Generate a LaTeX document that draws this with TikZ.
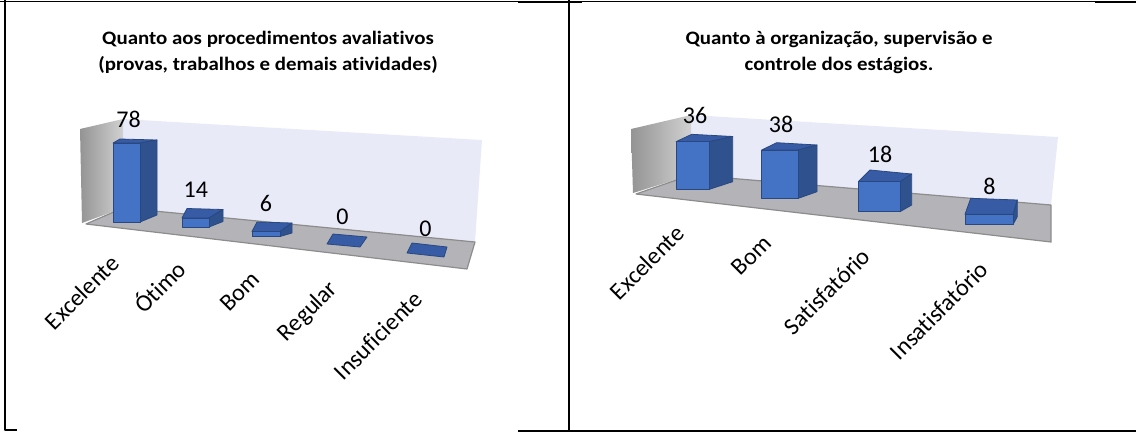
\documentclass[tikz,border=0pt]{standalone}
\usepackage{fontspec}
\setmainfont{Carlito}[Ligatures={NoCommon,NoContextual}]
\newfontfamily\titlefont{Carlito}[FakeStretch=1.1,Ligatures={NoCommon,NoContextual}]
\usepackage{tikz}

\definecolor{barblue}{RGB}{68,114,196}
\definecolor{bardark}{RGB}{47,82,143}
\definecolor{barmid}{RGB}{55,92,165}
\definecolor{baredge}{RGB}{41,72,128}
\definecolor{wallblue}{RGB}{232,234,248}
\definecolor{floorgray}{RGB}{180,180,184}
\definecolor{floorline}{RGB}{140,140,140}

\begin{document}
\begin{tikzpicture}[x=1pt,y=-1pt,line join=round,
facefront/.style={fill=barblue,draw=baredge,line width=0.8pt},
faceside/.style={fill=bardark,draw=baredge,line width=0.8pt},
facetop/.style={fill=barmid,draw=baredge,line width=0.8pt},
backplane/.style={fill=wallblue},
sidewall/.style={left color=black!42,right color=black!18},
floorplane/.style={fill=floorgray,draw=floorline,line width=1.2pt},
value/.style={font=\fontsize{24}{24}\selectfont,inner sep=0pt},
category/.style={font=\fontsize{24}{24}\selectfont,rotate=45,anchor=base east,inner sep=0pt},
charttitle/.style={font=\titlefont\fontsize{19}{24}\selectfont\bfseries,anchor=base,inner sep=0pt},
cellrule/.style={line width=2pt}]
\useasboundingbox (0,0) rectangle (1136,432);
\draw[line width=1pt] (0,1.5) -- (1136,1.5);
\draw[cellrule] (518,1.5) -- (582,1.5) (1095,1.5) -- (1136,1.5);
\draw[cellrule] (5,0) -- (5,430) -- (17,430);
\draw[cellrule] (569,0) -- (569,432);
\draw[cellrule] (518,431) -- (1136,431);

\node[charttitle] (titleA1) at (268,44) {Quanto aos procedimentos avaliativos};
\node[charttitle] (titleA2) at (268,70) {(provas, trabalhos e demais atividades)};
\fill[backplane] (123,119) -- (482,140) -- (475,242) -- (123,208) -- cycle;
\shade[sidewall] (80,129) -- (123,119) -- (123,208) -- (82,223) -- cycle;
\filldraw[floorplane] (123,208) -- (475,242) -- (467,269) -- (86,224) -- cycle;
\filldraw[facetop] (113,143) -- (120,139) -- (157,140) -- (140,143) -- cycle;
\filldraw[faceside] (140,143) -- (157,140) -- (157,215) -- (140,222) -- cycle;
\filldraw[facefront] (113,143) rectangle (140,222);
\filldraw[facetop] (182,218) -- (187,208.5) -- (223,209.5) -- (209,218) -- cycle;
\filldraw[faceside] (209,218) -- (223,209.5) -- (223,221.5) -- (209,227) -- cycle;
\filldraw[facefront] (182,218) rectangle (209,227);
\filldraw[facetop] (252,231.5) -- (257,222) -- (292,223) -- (280,231.5) -- cycle;
\filldraw[faceside] (280,231.5) -- (292,223) -- (292,233) -- (280,236.5) -- cycle;
\filldraw[facefront] (252,231.5) rectangle (280,236.5);
\filldraw[facetop] (327,244) -- (333,234) -- (367,237) -- (360,247) -- cycle;
\filldraw[facetop] (407,253) -- (412,243) -- (447,247) -- (444,257) -- cycle;
\node[value] (vA1) at (128.6,119) {78};
\node[value] (vA2) at (195.8,190) {14};
\node[value] (vA3) at (266,203.5) {6};
\node[value] (vA4) at (342.5,217) {0};
\node[value] (vA5) at (425.5,229) {0};
\node[category] (cA1) at (121,265) {Excelente};
\node[category] (cA2) at (188,271) {Ótimo};
\node[category] (cA3) at (261,281) {Bom};
\node[category] (cA4) at (339,290) {Regular};
\node[category] (cA5) at (424,301) {Insuficiente};

\node[charttitle] (titleB1) at (839,44) {Quanto à organização, supervisão e};
\node[charttitle] (titleB2) at (839,70) {controle dos estágios.};
\fill[backplane] (691,115) -- (1058,137) -- (1051,205) -- (691,175) -- cycle;
\shade[sidewall] (631,129) -- (691,115) -- (691,175) -- (633,193) -- cycle;
\filldraw[floorplane] (691,175) -- (1051,205) -- (1051,242) -- (636,194) -- cycle;
\filldraw[facetop] (676,141.7) -- (691.7,134.3) -- (732.7,136.5) -- (709.3,141.7) -- cycle;
\filldraw[faceside] (709.3,141.7) -- (732.7,136.5) -- (732.7,181.7) -- (709.3,189.3) -- cycle;
\filldraw[facefront] (676,141.7) rectangle (709.3,189.3);
\filldraw[facetop] (761.7,150) -- (776.7,142.7) -- (817,145) -- (798.3,150) -- cycle;
\filldraw[faceside] (798.3,150) -- (817,145) -- (817,191.7) -- (798.3,198.3) -- cycle;
\filldraw[facefront] (761.7,150) rectangle (798.3,198.3);
\filldraw[facetop] (858.3,181.7) -- (870,170) -- (911.7,174) -- (900,181.7) -- cycle;
\filldraw[faceside] (900,181.7) -- (911.7,174) -- (911.7,205) -- (900,211.7) -- cycle;
\filldraw[facefront] (858.3,181.7) rectangle (900,211.7);
\filldraw[facetop] (965,214.3) -- (970.7,198.3) -- (1017.3,200) -- (1013.3,214.3) -- cycle;
\filldraw[faceside] (1013.3,214.3) -- (1017.3,200) -- (1017.3,216.7) -- (1013.3,224) -- cycle;
\filldraw[facefront] (965,214.3) rectangle (1013.3,224);
\node[value] (vB1) at (695,115.7) {36};
\node[value] (vB2) at (781,124) {38};
\node[value] (vB3) at (880,154) {18};
\node[value] (vB4) at (989.5,186) {8};
\node[category] (cB1) at (686,235) {Excelente};
\node[category] (cB2) at (772.7,245) {Bom};
\node[category] (cB3) at (872,258) {Satisfatório};
\node[category] (cB4) at (990,271) {Insatisfatório};
\end{tikzpicture}
\end{document}
